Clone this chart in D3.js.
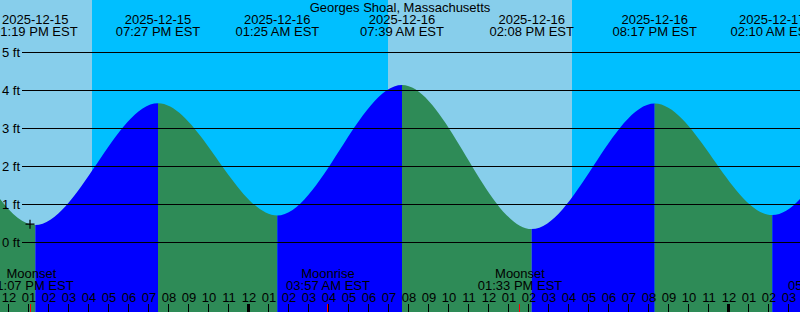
<!DOCTYPE html>
<html>
<head>
<meta charset="utf-8">
<script src="https://cdn.jsdelivr.net/npm/d3@7"></script>
<style>
  html, body { margin: 0; padding: 0; background: #fff; }
  svg { display: block; }
  text { font-family: "Liberation Sans", Arial, sans-serif; font-size: 13px; fill: #000; }
</style>
</head>
<body>
<div id="chart"></div>
<script>
// all times are EST wall-clock, parsed as UTC so the sandbox timezone does not matter
var title = "Georges Shoal, Massachusetts";

// hi/lo tides; first and last two are off screen, they only shape the edges
var tideTimes   = ["2025-12-15 00:50", "2025-12-15 07:05", "2025-12-15 13:19", "2025-12-15 19:27",
                   "2025-12-16 01:25", "2025-12-16 07:39", "2025-12-16 14:08", "2025-12-16 20:17",
                   "2025-12-17 02:10", "2025-12-17 08:25", "2025-12-17 14:50"];
var tideHeights = [0.6, 3.95, 0.45, 3.66, 0.70, 4.14, 0.34, 3.65, 0.71, 4.1, 0.3];

var sunTimes = ["2025-12-15 16:09", "2025-12-16 06:57", "2025-12-16 16:09"];
var sunKinds = ["Sunset", "Sunrise", "Sunset"];

var moonTimes = ["2025-12-15 13:07", "2025-12-16 03:57", "2025-12-16 13:33", "2025-12-17 05:03"];
var moonKinds = ["Moonset", "Moonrise", "Moonset", "Moonrise"];

var levelTicks = [0, 1, 2, 3, 4, 5];

var markTime = "2025-12-15 13:03";
var markLevel = 0.47;

var width = 800,
    height = 312,
    pxPerHour = 20,
    axisTop = 304;

var parse = d3.utcParse("%Y-%m-%d %H:%M"),
    fmtDate = d3.utcFormat("%Y-%m-%d"),
    fmtTime = d3.utcFormat("%I:%M %p EST"),
    fmtHour = d3.utcFormat("%I");

var t0 = parse("2025-12-15 12:00"),
    x0 = 9,
    start = d3.utcMinute.offset(t0, -x0 * 60 / pxPerHour),
    end = d3.utcMinute.offset(start, width * 60 / pxPerHour);

var x = d3.scaleUtc().domain([start, end]).range([0, width]);
var y = d3.scaleLinear().domain([0, 5]).range([242, 52.3]);

var tides = tideTimes.map(function (t, i) { return { t: parse(t), h: tideHeights[i] }; });
var suns = sunTimes.map(function (t, i) { return { t: parse(t), kind: sunKinds[i] }; });
var moons = moonTimes.map(function (t, i) { return { t: parse(t), kind: moonKinds[i] }; });

var svg = d3.select("#chart").append("svg")
    .attr("width", width)
    .attr("height", height);

var defs = svg.append("defs");

// sky: day everywhere, night between sunset and next sunrise
svg.append("rect")
    .attr("width", width).attr("height", height)
    .attr("fill", "#87ceeb");

var nights = [];
suns.forEach(function (s, i) {
    if (s.kind === "Sunset") {
        var next = suns[i + 1];
        nights.push([s.t, next ? next.t : end]);
    }
});
if (suns[0].kind === "Sunrise") nights.unshift([start, suns[0].t]);

svg.selectAll("rect.night").data(nights).enter().append("rect")
    .attr("class", "night")
    .attr("x", function (d) { return x(d[0]); })
    .attr("width", function (d) { return x(d[1]) - x(d[0]); })
    .attr("y", 0).attr("height", height)
    .attr("fill", "#00bfff")
    .attr("shape-rendering", "crispEdges");

// water: blue while rising, green while falling
var area = d3.area()
    .curve(d3.curveMonotoneX)
    .x(function (d) { return x(d.t); })
    .y0(height)
    .y1(function (d) { return y(d.h); });

var segs = d3.pairs(tides).map(function (p, i) {
    return { a: p[0], b: p[1], rising: p[1].h > p[0].h, id: "seg" + i };
});

defs.selectAll("clipPath").data(segs).enter().append("clipPath")
    .attr("id", function (d) { return d.id; })
    .append("rect")
    .attr("x", function (d) { return x(d.a.t); })
    .attr("width", function (d) { return x(d.b.t) - x(d.a.t); })
    .attr("y", 0).attr("height", height);

svg.selectAll("path.water").data(segs).enter().append("path")
    .attr("class", "water")
    .attr("d", area(tides))
    .attr("clip-path", function (d) { return "url(#" + d.id + ")"; })
    .attr("fill", function (d) { return d.rising ? "#0000ff" : "#2e8b57"; });

// level lines
svg.selectAll("line.level").data(levelTicks).enter().append("line")
    .attr("class", "level")
    .attr("x1", 22).attr("x2", width)
    .attr("y1", function (d) { return Math.round(y(d)) + 0.5; })
    .attr("y2", function (d) { return Math.round(y(d)) + 0.5; })
    .attr("stroke", "#000")
    .attr("stroke-width", 1);

svg.selectAll("text.level").data(levelTicks).enter().append("text")
    .attr("class", "level")
    .attr("x", 2)
    .attr("y", function (d) { return y(d) + 5; })
    .text(function (d) { return d + " ft"; });

// current-time mark
var mx = x(parse(markTime)), my = y(markLevel);
svg.append("path")
    .attr("d", "M" + (mx - 4.5) + "," + my + "h9M" + mx + "," + (my - 4.5) + "v9")
    .attr("stroke", "#000")
    .attr("stroke-width", 1.2)
    .attr("fill", "none");

// title + tide event labels
svg.append("text")
    .attr("x", width / 2).attr("y", 12)
    .attr("text-anchor", "middle")
    .text(title);

var shown = tides.filter(function (d) { return x(d.t) >= 0 && x(d.t) <= width; });
var heads = svg.selectAll("g.head").data(shown).enter().append("g")
    .attr("class", "head")
    .attr("transform", function (d) { return "translate(" + x(d.t) + ",0)"; });
heads.append("text").attr("y", 23.5).attr("text-anchor", "middle")
    .text(function (d) { return fmtDate(d.t); });
heads.append("text").attr("y", 35.5).attr("text-anchor", "middle")
    .text(function (d) { return fmtTime(d.t); });

// moon labels
var moonG = svg.selectAll("g.moon").data(moons).enter().append("g")
    .attr("class", "moon")
    .attr("transform", function (d) { return "translate(" + x(d.t) + ",0)"; });
moonG.append("text").attr("y", 278).attr("text-anchor", "middle")
    .text(function (d) { return d.kind; });
moonG.append("text").attr("y", 290).attr("text-anchor", "middle")
    .text(function (d) { return fmtTime(d.t); });

// hour axis
var hours = x.ticks(d3.utcHour.every(1));
svg.selectAll("text.hour").data(hours).enter().append("text")
    .attr("class", "hour")
    .attr("x", function (d) { return x(d); })
    .attr("y", 302)
    .attr("text-anchor", "middle")
    .text(function (d) { return fmtHour(d); });

svg.selectAll("line.hour").data(hours).enter().append("line")
    .attr("class", "hour")
    .attr("x1", function (d) { return Math.round(x(d)) - 0.5; })
    .attr("x2", function (d) { return Math.round(x(d)) - 0.5; })
    .attr("y1", axisTop).attr("y2", height)
    .attr("stroke", "#000")
    .attr("stroke-width", function (d) { return d.getUTCHours() === 0 ? 3 : 1; });

svg.selectAll("line.moon").data(moons).enter().append("line")
    .attr("class", "moon")
    .attr("x1", function (d) { return Math.round(x(d.t)) - 0.5; })
    .attr("x2", function (d) { return Math.round(x(d.t)) - 0.5; })
    .attr("y1", axisTop).attr("y2", height)
    .attr("stroke", "#ff0000")
    .attr("stroke-width", 1);
</script>
</body>
</html>
